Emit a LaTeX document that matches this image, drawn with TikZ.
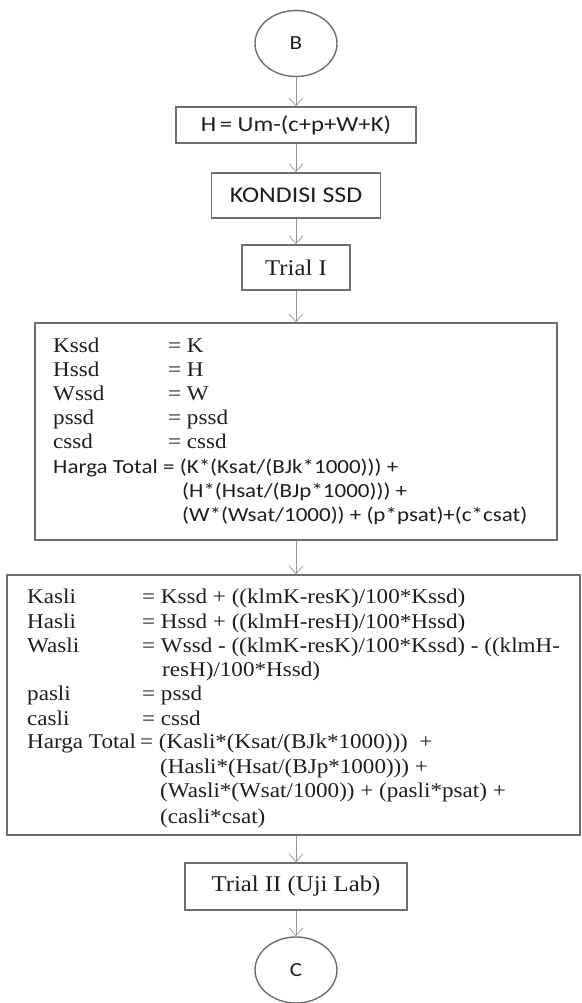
\documentclass[tikz,border=0pt]{standalone}
\usepackage{fontspec}
\usetikzlibrary{arrows.meta,shapes.geometric}
\newfontfamily\serifx[FakeStretch=1.1]{Liberation Serif}
\newfontfamily\sansx[FakeStretch=1.15]{Carlito}
\definecolor{edgegray}{RGB}{110,110,110}
\definecolor{flowgray}{RGB}{150,150,150}
\definecolor{ink}{RGB}{30,30,30}
\newcommand{\tnrtxt}{\serifx\fontsize{21}{24}\selectfont}
\newcommand{\caltxt}{\sansx\fontsize{20}{24}\selectfont}
\tikzset{
  frame/.style={draw=edgegray, line width=1.4pt, inner sep=0pt, text=ink},
  term/.style={ellipse, draw=edgegray, line width=1.4pt, inner sep=0pt,
               minimum width=82pt, minimum height=66pt, text=ink},
  flow/.style={draw=flowgray, line width=0.7pt, -{Straight Barb[length=8pt,width=14pt]}},
  tx/.style={anchor=base west, inner sep=0pt, text=ink}
}
\begin{document}
\begin{tikzpicture}[x=1pt,y=-1pt]
\useasboundingbox (0,0) rectangle (581,1003);

% terminators and small process boxes
\node[term] (B) at (296,43.5) {\sansx\fontsize{20}{24}\selectfont B};
\node[frame, minimum width=240pt, minimum height=36pt] (H) at (296,125)
  {\sansx\fontsize{21.5}{26}\selectfont H\,= Um-(c+p+W+K)};
\node[frame, minimum width=169pt, minimum height=45pt] (kond) at (296,195.5)
  {\sansx\fontsize{22.5}{26}\selectfont KONDISI SSD};
\node[frame, minimum width=108pt, minimum height=45pt] (t1) at (296,267.5)
  {\serifx\fontsize{22.5}{26}\selectfont Trial I};

% first calculation block (SSD)
\node[frame, minimum width=522pt, minimum height=217pt] (b1) at (296,431.5) {};
\node[tx] (b1l1) at (53,352) {\tnrtxt Kssd};
\node[tx] (b1l2) at (53,376) {\tnrtxt Hssd};
\node[tx] (b1l3) at (53,400) {\tnrtxt Wssd};
\node[tx] (b1l4) at (53,424) {\tnrtxt pssd};
\node[tx] (b1l5) at (53,448) {\tnrtxt cssd};
\node[tx] (b1l6) at (53,473) {\caltxt Harga Total};
\node[tx] (b1r1) at (168,352) {\tnrtxt = K};
\node[tx] (b1r2) at (168,376) {\tnrtxt = H};
\node[tx] (b1r3) at (168,400) {\tnrtxt = W};
\node[tx] (b1r4) at (168,424) {\tnrtxt = pssd};
\node[tx] (b1r5) at (168,448) {\tnrtxt = cssd};
\node[tx] (b1r6) at (163,473) {\caltxt = (K*(Ksat/(BJk*1000))) +};
\node[tx] (b1r7) at (182,497) {\caltxt (H*(Hsat/(BJp*1000))) +};
\node[tx] (b1r8) at (182,521) {\caltxt (W*(Wsat/1000)) + (p*psat)+(c*csat)};

% second calculation block (asli)
\node[frame, minimum width=573pt, minimum height=260pt] (b2) at (293.5,705) {};
\node[tx] (b2l1) at (27,603) {\tnrtxt Kasli};
\node[tx] (b2l2) at (27,628) {\tnrtxt Hasli};
\node[tx] (b2l3) at (27,652) {\tnrtxt Wasli};
\node[tx] (b2l4) at (27,700) {\tnrtxt pasli};
\node[tx] (b2l5) at (27,725) {\tnrtxt casli};
\node[tx] (b2l6) at (27,748) {\tnrtxt Harga Total};
\node[tx] (b2r1) at (142,603) {\tnrtxt = Kssd + ((klmK-resK)/100*Kssd)};
\node[tx] (b2r2) at (142,628) {\tnrtxt = Hssd + ((klmH-resH)/100*Hssd)};
\node[tx] (b2r3) at (142,652) {\tnrtxt = Wssd - ((klmK-resK)/100*Kssd) - ((klmH-};
\node[tx] (b2r3b) at (162,676) {\tnrtxt resH)/100*Hssd)};
\node[tx] (b2r4) at (142,700) {\tnrtxt = pssd};
\node[tx] (b2r5) at (142,725) {\tnrtxt = cssd};
\node[tx] (b2r6) at (140,748) {\tnrtxt = (Kasli*(Ksat/(BJk*1000)))\ \ +};
\node[tx] (b2r7) at (160,773) {\tnrtxt (Hasli*(Hsat/(BJp*1000))) +};
\node[tx] (b2r8) at (160,797) {\tnrtxt (Wasli*(Wsat/1000)) + (pasli*psat) +};
\node[tx] (b2r9) at (160,823) {\tnrtxt (casli*csat)};

% lab trial and exit connector
\node[frame, minimum width=222pt, minimum height=47pt] (t2) at (296,886.5)
  {\serifx\fontsize{22.5}{26}\selectfont Trial II (Uji Lab)};
\node[term] (C) at (296,970) {\sansx\fontsize{20}{24}\selectfont C};

% flow lines
\draw[flow] (B) -- (H);
\draw[flow] (H) -- (kond);
\draw[flow] (kond) -- (t1);
\draw[flow] (t1) -- (b1);
\draw[flow] (b1) -- (b1.south |- b2.north);
\draw[flow] (b2.south -| t2) -- (t2);
\draw[flow] (t2) -- (C);
\end{tikzpicture}
\end{document}
